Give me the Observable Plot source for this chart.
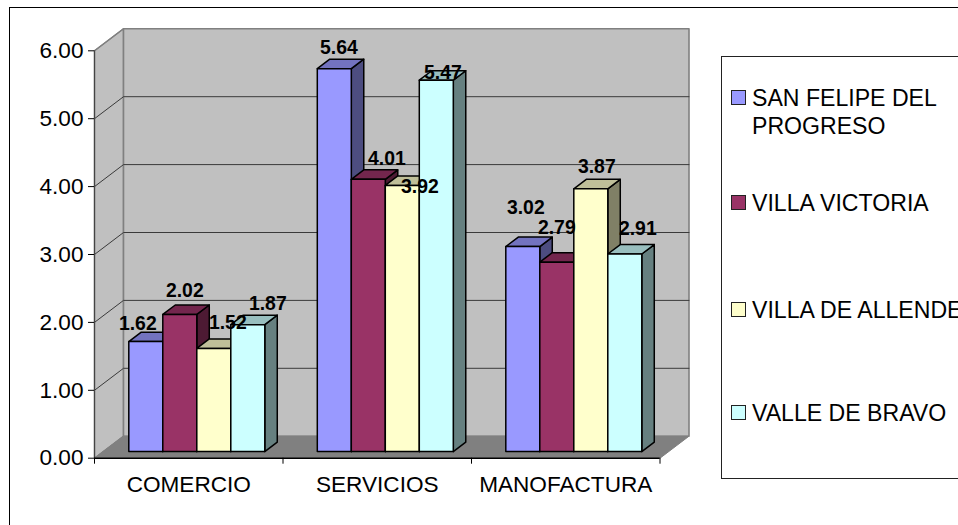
<!DOCTYPE html>
<html><head><meta charset="utf-8">
<script src="https://cdn.jsdelivr.net/npm/d3@7"></script>
<script src="https://cdn.jsdelivr.net/npm/@observablehq/plot@0.6"></script>
<style>
html,body{margin:0;padding:0;width:958px;height:525px;overflow:hidden;background:#fff;font-family:"Liberation Sans",Arial,sans-serif}
#wrap{position:relative;width:958px;height:525px;overflow:hidden}
#frame{position:absolute;left:8.5px;top:7px;width:1100px;height:700px;border:1.6px solid #000;box-sizing:border-box;pointer-events:none}
#chart{position:absolute;left:0;top:0}
#legend{position:absolute;left:721px;top:56px;width:400px;height:423px;border:1px solid #222;box-sizing:border-box;background:#fff}
.row{position:absolute;left:0;white-space:pre;font-size:23.1px;line-height:28px;color:#000}
.sw{position:absolute;left:9px;width:15px;height:15px;border:1.5px solid #222;box-sizing:border-box}
.tx{position:absolute;left:30px;top:0}
svg text{font-kerning:normal}
</style></head><body>
<div id="wrap"><div id="chart"></div><div id="frame"></div><div id="legend"></div></div>
<script>
const categories = ["COMERCIO", "SERVICIOS", "MANOFACTURA"];
const seriesNames = ["SAN FELIPE DEL\nPROGRESO", "VILLA VICTORIA", "VILLA DE ALLENDE", "VALLE DE BRAVO"];
const sanFelipe = [1.62, 5.64, 3.02];
const villaVictoria = [2.02, 4.01, 2.79];
const villaAllende = [1.52, 3.92, 3.87];
const valleBravo = [1.87, 5.47, 2.91];
const seriesValues = [sanFelipe, villaVictoria, villaAllende, valleBravo];
const seriesColors = ["#9999FF", "#993366", "#FFFFCC", "#CCFFFF"];
const yTicks = [0, 1, 2, 3, 4, 5, 6];

// Hand-placed data label offsets (px) as in the original: [category][series]
const labelNudge = [
  [[-8,-17.7],[5,-24],[14,-26],[20,-21]],
  [[4.6,-21],[18.6,-20.7],[17.6,1],[6.6,-7.6]],
  [[3,-39],[0,-34.6],[6,-22],[13,-25.4]]
];

// Oblique projection, in data units
const depthX = 29 / 188.5, depthY = 22 / 67.9;
const P = (c, v, z) => ({x: c + depthX * z, y: v + depthY * z});
const gap = 25.6 / 188.5, barW = 34 / 188.5, zFront = 0.3, zBack = 0.73;

const shade = (col, k) => { const c = d3.rgb(col); return d3.rgb(c.r*k, c.g*k, c.b*k).formatHex(); };
const face = (pts, fill, stroke = "#000", strokeWidth = 1.5) =>
  Plot.line([...pts, pts[0]], {x: "x", y: "y", fill, stroke, strokeWidth, strokeLinejoin: "round"});

const marks = [];
// walls + floor
marks.push(face([P(0,0,0),P(0,6,0),P(0,6,1),P(0,0,1)], "#C0C0C0", "#808080", 1.4));
marks.push(face([P(0,0,1),P(0,6,1),P(3,6,1),P(3,0,1)], "#C0C0C0", "#808080", 1.6));
marks.push(face([P(0,0,0),P(3,0,0),P(3,0,1),P(0,0,1)], "#808080", "#808080", 1));
// gridlines
for (const v of yTicks.slice(1, 6)) {
  marks.push(Plot.line([P(0,v,0),P(0,v,1),P(3,v,1)], {x:"x", y:"y", stroke:"#3a3a3a", strokeWidth:1}));
}
marks.push(Plot.line([P(0,6,0),P(0,6,1)], {x:"x", y:"y", stroke:"#808080", strokeWidth:1.2}));
marks.push(Plot.line([P(0,0,0),P(0,0,1)], {x:"x", y:"y", stroke:"#808080", strokeWidth:1.2}));
// bars
categories.forEach((_, c) => {
  seriesValues.forEach((vals, s) => {
    const v = vals[c], col = seriesColors[s];
    const l = c + gap + s * barW, r = l + barW;
    marks.push(face([P(r,0,zFront),P(r,v,zFront),P(r,v,zBack),P(r,0,zBack)], shade(col,0.5)));
    marks.push(face([P(l,v,zFront),P(r,v,zFront),P(r,v,zBack),P(l,v,zBack)], shade(col,0.75)));
    marks.push(face([P(l,0,zFront),P(l,v,zFront),P(r,v,zFront),P(r,0,zFront)], col));
  });
});
// axes
marks.push(Plot.ruleX([0], {y1:0, y2:6, stroke:"#444", strokeWidth:1.2}));
marks.push(Plot.ruleY([0], {x1:0, x2:3, stroke:"#000", strokeWidth:1.4}));
marks.push(Plot.axisY({ticks:yTicks, tickFormat:d3.format(".2f"), tickSize:6, tickPadding:5, label:null, fontSize:22.6, stroke:"#000", color:"#000"}));
marks.push(Plot.axisX({ticks:[0,1,2,3], tickFormat:()=>"", tickSize:6, label:null, stroke:"#000"}));
marks.push(Plot.axisX({ticks:[0.5,1.5,2.5], tickFormat:d=>categories[Math.floor(d)], tickSize:0, tickPadding:18, label:null, fontSize:22.6, fill:"#000"}));
// data labels, above everything
categories.forEach((_, c) => {
  seriesValues.forEach((vals, s) => {
    const v = vals[c], l = c + gap + s * barW;
    const p = P(l + barW/2, v, zFront), [dx, dy] = labelNudge[c][s];
    marks.push(Plot.text([v.toFixed(2)], {x:()=>p.x, y:()=>p.y, dx, dy, text:d=>d, fontSize:19.4, fontWeight:"bold", fill:"#000"}));
  });
});

const svg = Plot.plot({
  width: 958, height: 525,
  marginLeft: 94, marginRight: 298.5, marginTop: 28, marginBottom: 67.3,
  x: {type:"linear", domain:[0,3], range:[94,659.5]},
  y: {type:"linear", domain:[0,6], range:[457.7,50.3]},
  style: {fontFamily:"'Liberation Sans', Arial, sans-serif", background:"transparent", overflow:"visible"},
  marks
});
document.getElementById("chart").append(svg);

// legend
const legendCenters = [41, 146, 253, 356];
const lg = document.getElementById("legend");
seriesNames.forEach((name, i) => {
  const row = document.createElement("div");
  row.className = "row";
  row.style.top = (legendCenters[i] - 14) + "px";
  const sw = document.createElement("div");
  sw.className = "sw";
  sw.style.background = seriesColors[i];
  sw.style.top = "6px";
  const tx = document.createElement("div");
  tx.className = "tx";
  tx.textContent = name;
  row.append(sw, tx);
  lg.append(row);
});
</script>
</body></html>
